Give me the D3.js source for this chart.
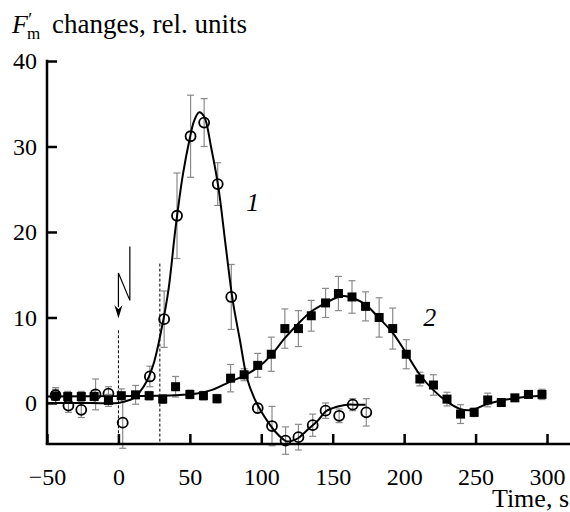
<!DOCTYPE html>
<html>
<head>
<meta charset="utf-8">
<script src="https://cdnjs.cloudflare.com/ajax/libs/d3/7.8.5/d3.min.js"></script>
<style>
  body { margin:0; background:white; }
  svg { display:block; }
  text { font-family:"Liberation Serif","DejaVu Serif",serif !important; fill:black; }
</style>
</head>
<body>
<div id="chart"></div>
<script>
// series 1 (open circles)
var t1 = [-44, -35, -26, -16, -7, 3, 22, 32, 41, 50.5, 60, 69.5, 79, 97.5, 107.5, 117, 126, 136, 145, 154.5, 164, 173.5];
var v1 = [0.9, -0.3, -0.8, 1.0, 1.1, -2.3, 3.1, 9.8, 21.9, 31.2, 32.8, 25.6, 12.4, -0.6, -2.7, -4.4, -4.0, -2.6, -0.9, -1.5, -0.2, -1.1];
var e1 = [0.9, 0.8, 0.9, 1.8, 0.8, 3.0, 1.2, 3.3, 5.0, 4.8, 2.8, 2.5, 3.8, 0.5, 2.3, 1.6, 1.5, 1.3, 0.9, 0.8, 0.7, 1.6];

// series 2 (filled squares)
var t2 = [-44, -35.5, -26, -17, -7, 2, 12, 21.5, 31, 40, 50, 59.5, 69, 78.5, 88, 97.5, 107, 116.5, 126, 135, 145, 154, 163.5, 173, 182.5, 192, 201.5, 211, 220.5, 230, 239.5, 249, 258.5, 268, 277.5, 287, 296.5];
var v2 = [0.8, 0.75, 0.75, 0.75, 0.3, 0.85, 0.95, 0.85, 0.45, 1.9, 1.0, 0.85, 0.5, 2.9, 3.3, 4.4, 5.7, 8.7, 8.7, 10.2, 11.7, 12.8, 12.4, 11.3, 10.0, 8.7, 5.7, 2.8, 2.1, 0.45, -1.3, -1.1, 0.35, 0.05, 0.6, 1.0, 1.0];
var e2 = [0.8, 0.6, 0.6, 0.7, 0.7, 0.8, 1.1, 0.5, 0.5, 1.2, 0.5, 0.5, 0.5, 1.6, 0.7, 1.4, 2.0, 2.3, 2.1, 1.8, 1.7, 2.0, 1.9, 1.7, 2.3, 2.4, 1.7, 0.8, 1.2, 0.8, 1.1, 0.5, 0.8, 0.3, 0.3, 0.4, 0.6];

// fitted curves
var fit1T = [-50, -20, 0, 5, 10, 15, 20, 25, 30, 35, 40, 45, 50, 53, 56.5, 60, 65, 70, 75, 80, 85, 90, 95, 100, 105, 110, 115, 118, 122, 126, 130, 136, 140, 145, 150, 155, 160, 165, 173];
var fit1V = [0, 0, 0, 0.2, 0.5, 1.3, 2.6, 4.8, 8.5, 13.2, 20.5, 26.6, 31.0, 33.0, 34.0, 33.5, 29.8, 25.2, 18.5, 12.0, 7.4, 2.9, 0.6, -1.0, -2.3, -3.4, -4.2, -4.5, -4.4, -4.1, -3.5, -2.6, -2.0, -1.0, -0.6, -0.35, -0.2, -0.2, -0.2];
var fit2T = [-50, 0, 40, 55, 65, 72, 78.5, 88, 98, 107, 116, 126, 135, 145, 154, 158, 163.5, 173, 182, 192, 201.5, 211, 220.5, 230, 239, 245, 249, 258.5, 268, 278, 287, 297];
var fit2V = [0.75, 0.8, 0.9, 1.1, 1.5, 2.0, 2.5, 3.2, 4.2, 5.6, 7.5, 9.3, 10.7, 11.7, 12.4, 12.5, 12.3, 11.5, 10.0, 8.2, 5.8, 3.3, 1.5, 0.15, -0.7, -0.85, -0.75, -0.1, 0.3, 0.55, 0.75, 0.85];

// ticks
var xTicks = [-50, 0, 50, 100, 150, 200, 250, 300];
var yTicks = [0, 10, 20, 30, 40];

// stimulus marks: dashed lines (time, top value) and the flash arrow
var markT = [0, 29];
var markTop = [8.5, 16.3];
var flashT = [8, 8, 0, 0];
var flashV = [18.3, 12, 15.2, 11.2];
var flashTip = 9.9;

var W = 570, H = 512;
var svg = d3.select("#chart").append("svg").attr("width", W).attr("height", H);

var x = d3.scaleLinear().domain([-50, 300]).range([47, 547]);
var y = d3.scaleLinear().domain([-4.8, 40]).range([444, 61]);

var line = d3.line()
  .x(function(d) { return x(d[0]); })
  .y(function(d) { return y(d[1]); })
  .curve(d3.curveCatmullRom.alpha(0.5));

// dashed markers
markT.forEach(function(t, i) {
  svg.append("line")
    .attr("x1", x(t)).attr("x2", x(t))
    .attr("y1", y(markTop[i])).attr("y2", y(-4.8))
    .attr("stroke", "black").attr("stroke-width", 1)
    .attr("stroke-dasharray", "3,2");
});

// flash symbol
var fl = flashT.map(function(t, i) { return [x(t), y(flashV[i])]; });
svg.append("path")
  .attr("d", d3.line()(fl))
  .attr("fill", "none").attr("stroke", "black").attr("stroke-width", 1.2);
var tipX = x(0), tipY = y(flashTip);
svg.append("path")
  .attr("d", "M" + tipX + "," + tipY + "L" + (tipX - 4) + "," + (tipY - 13) +
             "L" + tipX + "," + (tipY - 9) + "L" + (tipX + 4) + "," + (tipY - 13) + "Z")
  .attr("fill", "black");

// error bars
function errBars(T, V, E) {
  var g = svg.append("g").attr("stroke", "#8a8a8a").attr("stroke-width", 1.2);
  T.forEach(function(t, i) {
    var cx = x(t), y0 = y(V[i] - E[i]), y1 = y(V[i] + E[i]);
    g.append("line").attr("x1", cx).attr("x2", cx).attr("y1", y0).attr("y2", y1);
    g.append("line").attr("x1", cx - 3.5).attr("x2", cx + 3.5).attr("y1", y0).attr("y2", y0);
    g.append("line").attr("x1", cx - 3.5).attr("x2", cx + 3.5).attr("y1", y1).attr("y2", y1);
  });
}
errBars(t1, v1, e1);
errBars(t2, v2, e2);

// fitted curves
svg.append("path")
  .attr("d", line(fit2T.map(function(t, i) { return [t, fit2V[i]]; })))
  .attr("fill", "none").attr("stroke", "black").attr("stroke-width", 2);
svg.append("path")
  .attr("d", line(fit1T.map(function(t, i) { return [t, fit1V[i]]; })))
  .attr("fill", "none").attr("stroke", "black").attr("stroke-width", 2);

// squares
svg.append("g").selectAll("rect")
  .data(t2).enter()
  .append("rect")
  .attr("x", function(d) { return x(d) - 4.5; })
  .attr("y", function(d, i) { return y(v2[i]) - 4.5; })
  .attr("width", 9).attr("height", 9)
  .attr("fill", "black");

// circles
svg.append("g").selectAll("circle")
  .data(t1).enter()
  .append("circle")
  .attr("cx", function(d) { return x(d); })
  .attr("cy", function(d, i) { return y(v1[i]); })
  .attr("r", 5)
  .attr("fill", "none").attr("stroke", "black").attr("stroke-width", 1.8);

// axes
var xAxis = d3.axisBottom(x).tickValues(xTicks).tickSizeInner(-10).tickSizeOuter(0).tickPadding(24)
  .tickFormat(function(d) { return d < 0 ? "\u2212" + Math.abs(d) : d; });
var gx = svg.append("g").attr("transform", "translate(0," + y(-4.8) + ")").call(xAxis);
gx.select(".domain").remove();
gx.selectAll(".tick line").attr("stroke-width", 2.5);
gx.selectAll("text").attr("font-size", 24);

var yAxis = d3.axisLeft(y).tickValues(yTicks).tickSizeInner(-10).tickSizeOuter(0).tickPadding(10);
var gy = svg.append("g").attr("transform", "translate(" + x(-50) + ",0)").call(yAxis);
gy.select(".domain").remove();
gy.selectAll(".tick line").attr("stroke-width", 2.5);
gy.selectAll("text").attr("font-size", 24);

svg.append("line")
  .attr("x1", x(-50) - 1.25).attr("x2", W)
  .attr("y1", y(-4.8)).attr("y2", y(-4.8))
  .attr("stroke", "black").attr("stroke-width", 2.5);
svg.append("line")
  .attr("x1", x(-50)).attr("x2", x(-50))
  .attr("y1", y(40) - 1.25).attr("y2", y(-4.8))
  .attr("stroke", "black").attr("stroke-width", 2.5);

// curve labels
svg.append("text").attr("x", x(94)).attr("y", y(23.5) + 9)
  .attr("text-anchor", "middle").attr("font-size", 26).attr("font-style", "italic").text("1");
svg.append("text").attr("x", x(218)).attr("y", y(10.1) + 9)
  .attr("text-anchor", "middle").attr("font-size", 26).attr("font-style", "italic").text("2");

// y title: F'm changes, rel. units (one text element)
var yt = svg.append("text").attr("x", 12).attr("y", 33).attr("font-size", 26);
yt.append("tspan").attr("font-style", "italic").text("F");
yt.append("tspan").attr("font-size", 17).attr("dx", -1).attr("dy", 6).text("m");
yt.append("tspan").attr("font-size", 18).attr("dx", -12).attr("dy", -13).text("\u2032");
yt.append("tspan").attr("x", 52).attr("dy", 7).attr("font-size", 27).text("changes, rel. units");

svg.append("text").attr("x", 569).attr("y", 507).attr("text-anchor", "end")
  .attr("font-size", 26).text("Time, s");
</script>
</body>
</html>
